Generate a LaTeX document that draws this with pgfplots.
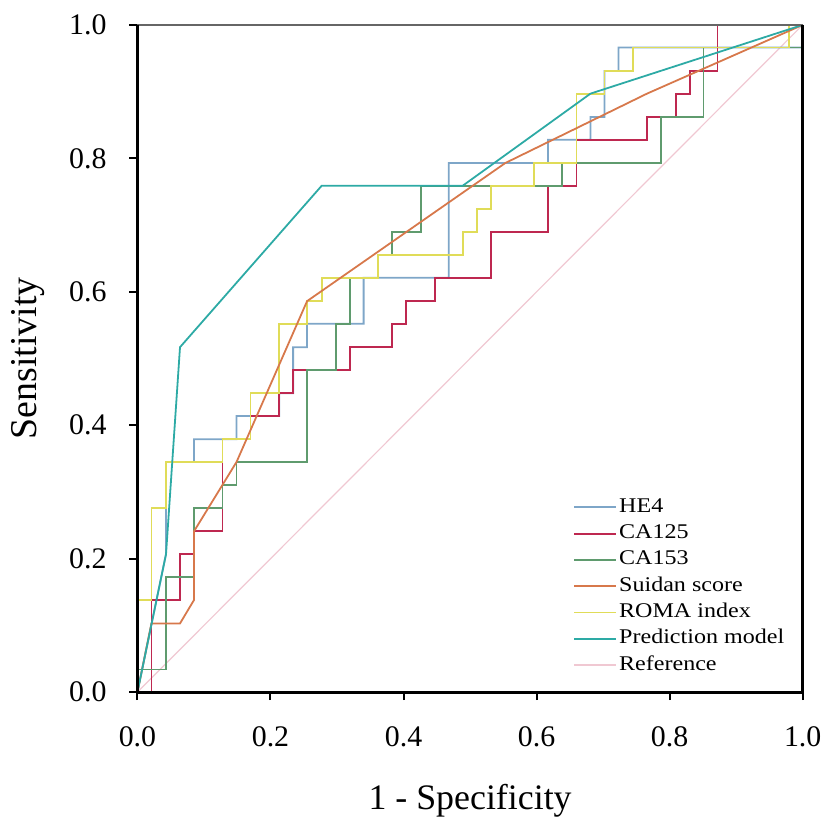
\documentclass[border=0pt]{standalone}
\usepackage{fontspec}
\setmainfont{Liberation Serif}
\newfontfamily\legfont[FakeStretch=1.15]{Liberation Serif}
\usepackage{pgfplots}
\pgfplotsset{compat=1.18}

\definecolor{he4}{RGB}{126,166,200}
\definecolor{ca125}{RGB}{190,40,80}
\definecolor{ca153}{RGB}{95,155,110}
\definecolor{suidan}{RGB}{215,120,75}
\definecolor{roma}{RGB}{224,220,88}
\definecolor{pred}{RGB}{45,170,165}
\definecolor{refc}{RGB}{240,200,210}

\begin{document}
\begin{tikzpicture}
\begin{axis}[
    scale only axis,
    width=334pt, height=335pt,
    xmin=0, xmax=1, ymin=0, ymax=1,
    xtick={0,0.2,0.4,0.6,0.8,1},
    ytick={0,0.2,0.4,0.6,0.8,1},
    tick pos=left,
    tick align=outside,
    major tick length=4pt,
    tick style={black, line width=1pt},
    axis line style={draw=none},
    clip=false,
    /pgf/number format/assume math mode=true,
    xticklabel style={/pgf/number format/fixed, /pgf/number format/fixed zerofill, /pgf/number format/precision=1, font=\fontsize{15}{15}\selectfont, yshift=-10pt},
    yticklabel style={/pgf/number format/fixed, /pgf/number format/fixed zerofill, /pgf/number format/precision=1, font=\fontsize{15}{15}\selectfont, xshift=-8pt},
    xlabel={1 - Specificity},
    ylabel={Sensitivity},
    xlabel style={font=\fontsize{18}{18}\selectfont, at={(axis description cs:0.5,-0.162)}, anchor=center},
    ylabel style={font=\fontsize{19}{19}\selectfont, at={(axis description cs:-0.165,0.5)}, anchor=center},
    legend style={at={(axis description cs:0.655,0.022)}, anchor=south west, draw=none, fill=none,
        inner sep=0pt, row sep=1.2pt, font=\legfont\fontsize{10.5}{12}\selectfont,
        nodes={inner ysep=1pt, inner xsep=1pt, text height=7.5pt, text depth=2.5pt}},
    legend cell align=left,
    legend image code/.code={\draw[#1] (0pt,0pt) -- (21pt,0pt);},
]
% reference diagonal
\addplot[refc, line width=0.6pt, forget plot] coordinates {(0,0) (1,1)};
% HE4
\addplot[he4, line width=0.9pt, forget plot] coordinates {
(0,0) (0.043,0.207) (0.043,0.345) (0.085,0.345) (0.085,0.379) (0.149,0.379) (0.149,0.414)
(0.213,0.414) (0.213,0.448) (0.234,0.448) (0.234,0.517) (0.255,0.517) (0.255,0.552)
(0.340,0.552) (0.340,0.621) (0.468,0.621) (0.468,0.793) (0.617,0.793) (0.617,0.828)
(0.681,0.828) (0.681,0.862) (0.702,0.862) (0.702,0.931) (0.723,0.931) (0.723,0.966)
(1,0.966) (1,1)};
% CA125
\addplot[ca125, line width=0.9pt, forget plot] coordinates {
(0,0) (0.021,0) (0.021,0.138) (0.064,0.138) (0.064,0.207) (0.085,0.207) (0.085,0.241)
(0.128,0.241) (0.128,0.345) (0.128,0.379) (0.170,0.379) (0.170,0.414) (0.213,0.414)
(0.213,0.448) (0.234,0.448) (0.234,0.483) (0.319,0.483) (0.319,0.517) (0.383,0.517)
(0.383,0.552) (0.404,0.552) (0.404,0.586) (0.447,0.586) (0.447,0.621) (0.532,0.621)
(0.532,0.690) (0.617,0.690) (0.617,0.759) (0.660,0.759) (0.660,0.828) (0.766,0.828)
(0.766,0.862) (0.809,0.862) (0.809,0.897) (0.830,0.897) (0.830,0.931) (0.872,0.931)
(0.872,1) (1,1)};
% CA153
\addplot[ca153, line width=0.9pt, forget plot] coordinates {
(0,0) (0,0.034) (0.043,0.034) (0.043,0.172) (0.085,0.172) (0.085,0.276) (0.128,0.276)
(0.128,0.310) (0.149,0.310) (0.149,0.345) (0.255,0.345) (0.255,0.483) (0.298,0.483)
(0.298,0.552) (0.319,0.552) (0.319,0.621) (0.362,0.621) (0.362,0.655) (0.383,0.655)
(0.383,0.690) (0.426,0.690) (0.426,0.759) (0.638,0.759) (0.638,0.793) (0.787,0.793)
(0.787,0.862) (0.851,0.862) (0.851,0.966) (1,0.966) (1,1)};
% ROMA index
\addplot[roma, line width=0.9pt, forget plot] coordinates {
(0,0) (0,0.138) (0.021,0.138) (0.021,0.276) (0.043,0.276) (0.043,0.345) (0.128,0.345)
(0.128,0.379) (0.170,0.379) (0.170,0.448) (0.213,0.448) (0.213,0.552) (0.255,0.552)
(0.255,0.586) (0.277,0.586) (0.277,0.621) (0.362,0.621) (0.362,0.655) (0.489,0.655)
(0.489,0.690) (0.511,0.690) (0.511,0.724) (0.532,0.724) (0.532,0.759) (0.596,0.759)
(0.596,0.793) (0.660,0.793) (0.660,0.897) (0.702,0.897) (0.702,0.931) (0.745,0.931)
(0.745,0.966) (0.979,0.966) (0.979,1) (1,1)};
% Suidan score
\addplot[suidan, line width=0.9pt, forget plot] coordinates {
(0,0) (0.021,0.103) (0.064,0.103) (0.085,0.138) (0.085,0.241) (0.149,0.345)
(0.255,0.586) (0.553,0.793) (0.766,0.897) (1,1)};
% Prediction model
\addplot[pred, line width=0.9pt, forget plot] coordinates {
(0,0) (0.043,0.207) (0.064,0.517) (0.277,0.759) (0.489,0.759) (0.681,0.897) (1,1)};

\addlegendimage{he4, line width=0.9pt}
\addlegendimage{ca125, line width=0.9pt}
\addlegendimage{ca153, line width=0.9pt}
\addlegendimage{suidan, line width=0.9pt}
\addlegendimage{roma, line width=0.9pt}
\addlegendimage{pred, line width=0.9pt}
\addlegendimage{refc, line width=0.9pt}
\legend{HE4, CA125, CA153, Suidan score, ROMA index, Prediction model, Reference}

% frame: thick left, bottom, right; thin top
\draw[line width=0.8pt, black!60] (rel axis cs:0,1) -- (rel axis cs:1,1);
\draw[line width=1.4pt, black] (rel axis cs:0,1) -- (rel axis cs:0,0) -- (rel axis cs:1,0) -- (rel axis cs:1,1);
% page margins as in the reference
\path (rel axis cs:0,0) ++(-69pt,-62.5pt);
\path (rel axis cs:1,1) ++(11pt,12.5pt);
\end{axis}
\end{tikzpicture}
\end{document}
